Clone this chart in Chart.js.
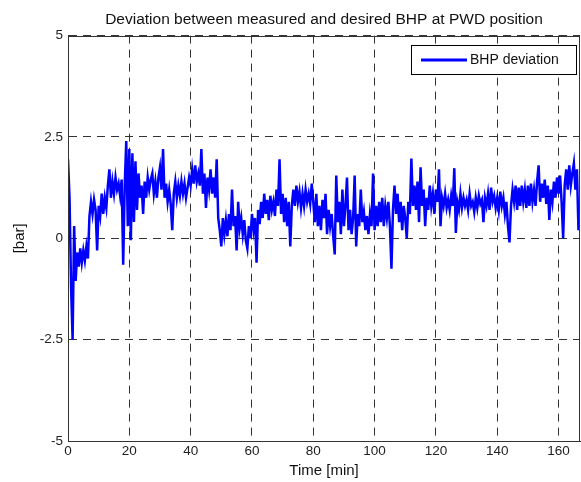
<!DOCTYPE html>
<html>
<head>
<meta charset="utf-8">
<script src="https://cdn.jsdelivr.net/npm/chart.js@4"></script>
<style>
  html, body { margin: 0; padding: 0; background: #fff; }
  #wrap { width: 581px; height: 482px; position: relative; }
</style>
</head>
<body>
<div id="wrap"><canvas id="grafico"></canvas></div>
<script>
// Amostragem: um valor a cada 0.5 min, começando em t = 0
const passoTempo = 0.5;

// Desvio do BHP [bar] (10 min por linha)
const desvio = [
  1.95, 1.0, -1.2, -2.5, 0.3, -1.05, -0.35, -0.7, -0.25, -0.6, -0.3, -0.55, -0.2, -0.5, 0.55, 0.9, 0.6, 0.95, 0.7, -0.3,
  0.8, 0.55, 1.1, 0.6, 1.0, 0.75, 1.3, 1.7, 1.0, 1.4, 1.1, 1.5, 1.2, 1.35, 1.05, 1.45, -0.65, 1.3, 2.4, 0.3,
  2.2, -0.05, 2.1, 0.4, 1.9, 0.7, 1.6, 1.0, 1.3, 0.6, 1.4, 1.0, 1.5, 1.2, 1.45, 1.6, 1.1, 1.4, 1.0, 1.5,
  1.75, 1.2, 2.2, 1.0, 1.35, 0.9, 1.2, 0.85, 0.2, 1.1, 1.4, 1.0, 1.3, 1.05, 1.4, 1.1, 1.35, 1.0, 1.25, 1.5,
  1.3, 1.7, 1.35, 1.8, 1.4, 1.6, 1.3, 2.2, 1.1, 1.6, 0.75, 1.5, 1.2, 1.7, 1.1, 1.5, 1.0, 1.95, 0.5, 0.2,
  -0.2, 0.5, 0.1, 0.45, 0.05, 0.6, 0.2, 1.2, 0.3, 0.55, -0.3, 0.9, 0.25, 0.5, 0.1, 0.45, -0.05, -0.25, 0.3, 0.0,
  0.6, 0.2, 0.5, -0.6, 0.7, 0.35, 0.9, 0.5, 1.1, 0.6, 0.95, 0.45, 1.05, 0.7, 0.9, 0.55, 1.2, 0.8, 1.95, 0.6,
  1.1, 0.4, 1.0, 0.3, 0.9, -0.2, 0.8, 1.2, 0.8, 1.3, 0.9, 1.15, 0.75, 1.1, 0.8, 1.2, 0.9, 1.1, 0.85, 1.35,
  0.9, 0.4, 1.1, 0.3, 0.8, 0.2, 0.95, 0.5, 1.1, 0.1, 0.7, 0.3, 0.6, 0.05, -0.4, 1.55, 0.4, 0.9, 0.1, 1.2,
  0.3, 0.8, 1.5, 0.2, 0.7, 0.1, 0.5, 1.55, -0.2, 0.6, 0.3, 1.2, 0.4, 0.65, 0.2, 0.55, 0.1, 0.6, 0.3, 1.6,
  0.2, 0.8, 0.3, 0.9, 0.4, 1.0, 0.3, 0.8, 0.5, 0.9, 0.3, -0.75, 0.7, 1.3, 0.6, 1.1, 0.4, 0.9, 0.2, 0.8,
  0.5, 0.0, 0.9, 0.6, 1.97, 0.8, 1.3, 0.7, 1.4, 0.4, 1.75, 0.8, 1.2, 0.3, 1.0, 0.7, 1.3, 0.8, 1.1, 0.6,
  1.2, 0.9, 1.7, 0.3, 1.0, 0.8, 1.1, 0.75, 0.95, 0.7, 1.05, 0.8, 1.73, 0.13, 0.9, 0.7, 1.1, 0.75, 1.0, 0.8,
  0.95, 0.7, 1.1, 0.8, 0.9, 0.65, 1.0, 0.75, 1.05, 0.85, 0.95, 0.4, 1.0, 0.8, 1.1, 0.7, 1.25, 0.9, 1.05, 0.75,
  1.0, 0.7, 1.15, 0.8, 1.0, 0.6, 0.9, 0.3, -0.1, 0.8, 1.2, 0.9, 1.3, 0.7, 1.25, 0.8, 1.3, 0.9, 1.2, 0.75,
  1.3, 0.8, 1.35, 0.9, 1.2, 0.8, 1.4, 1.8, 0.9, 1.35, 1.0, 1.45, 0.85, 1.3, 0.45, 1.2, 0.9, 1.4, 1.0, 1.5,
  1.1, 1.55, 0.9, 0.0, 1.3, 1.7, 1.2, 1.8, 1.3, 1.6, 1.85, 1.2, 1.7, 0.2
];

const ticksX = [0, 20, 40, 60, 80, 100, 120, 140, 160];
const ticksY = [-5, -2.5, 0, 2.5, 5];

const fonte = 'Arial, "Liberation Sans", sans-serif';

// Moldura completa do eixo (estilo MATLAB) e legenda dentro da área do gráfico
const molduraELegenda = {
    id: 'molduraELegenda',
    afterDatasetsDraw(chart) {
        const { ctx, chartArea: a } = chart;
        ctx.save();
        ctx.strokeStyle = '#333';
        ctx.lineWidth = 1;
        ctx.setLineDash([]);
        ctx.strokeRect(Math.round(a.left) + 0.5, Math.round(a.top) + 0.5,
            Math.round(a.right - a.left) - 1, Math.round(a.bottom - a.top));

        // legenda
        const ds = chart.data.datasets[0];
        const bx = 411.5, by = 45.5, bw = 165, bh = 29;
        ctx.fillStyle = '#fff';
        ctx.fillRect(bx, by, bw, bh);
        ctx.strokeStyle = '#000';
        ctx.strokeRect(bx, by, bw, bh);
        ctx.strokeStyle = ds.borderColor;
        ctx.lineWidth = 3;
        ctx.beginPath();
        ctx.moveTo(421, 60);
        ctx.lineTo(467, 60);
        ctx.stroke();
        ctx.fillStyle = '#111';
        ctx.font = '14px ' + fonte;
        ctx.textBaseline = 'middle';
        ctx.textAlign = 'left';
        ctx.fillText(ds.label, 470, 60);
        ctx.restore();
    }
};

new Chart(document.getElementById('grafico'), {
    type: 'line',
    data: {
        datasets: [{
            label: 'BHP deviation',
            data: desvio.map((v, i) => ({ x: i * passoTempo, y: v })),
            borderColor: '#0000ff',
            backgroundColor: '#0000ff',
            borderWidth: 2.5,
            pointRadius: 0,
            tension: 0,
            fill: false
        }]
    },
    options: {
        responsive: true,
        maintainAspectRatio: false,
        animation: false,
        layout: { padding: { top: 0, right: 1, bottom: 0, left: 0 } },
        plugins: {
            legend: { display: false },
            tooltip: { enabled: false },
            title: {
                display: true,
                fullSize: false,
                text: 'Deviation between measured and desired BHP at PWD position',
                color: '#111',
                font: { family: fonte, size: 15.5, weight: 'normal' },
                padding: { top: 10, bottom: 7 }
            }
        },
        scales: {
            x: {
                type: 'linear',
                min: 0,
                max: 167,
                afterFit: (s) => { s.height = 41; },
                afterBuildTicks: (s) => { s.ticks = ticksX.map(v => ({ value: v })); },
                ticks: {
                    color: '#222',
                    font: { family: fonte, size: 13.5 },
                    padding: 2,
                    maxRotation: 0,
                    callback: (v) => String(v)
                },
                grid: { color: '#333', lineWidth: 1, drawTicks: false },
                border: { display: true, color: '#333', dash: [8, 6] },
                title: {
                    display: true,
                    text: 'Time [min]',
                    color: '#111',
                    font: { family: fonte, size: 15 },
                    padding: { top: 0, bottom: 2 }
                }
            },
            y: {
                min: -5,
                max: 5,
                afterFit: (s) => { s.width = 68; },
                afterBuildTicks: (s) => { s.ticks = ticksY.map(v => ({ value: v })); },
                ticks: {
                    color: '#222',
                    font: { family: fonte, size: 13.5 },
                    padding: 5,
                    callback: (v) => String(v)
                },
                grid: { color: '#333', lineWidth: 1, drawTicks: false },
                border: { display: true, color: '#333', dash: [8, 6] },
                title: {
                    display: true,
                    text: '[bar]',
                    color: '#111',
                    font: { family: fonte, size: 15 },
                    padding: { top: 11, bottom: 0 }
                }
            }
        }
    },
    plugins: [molduraELegenda]
});
</script>
</body>
</html>
